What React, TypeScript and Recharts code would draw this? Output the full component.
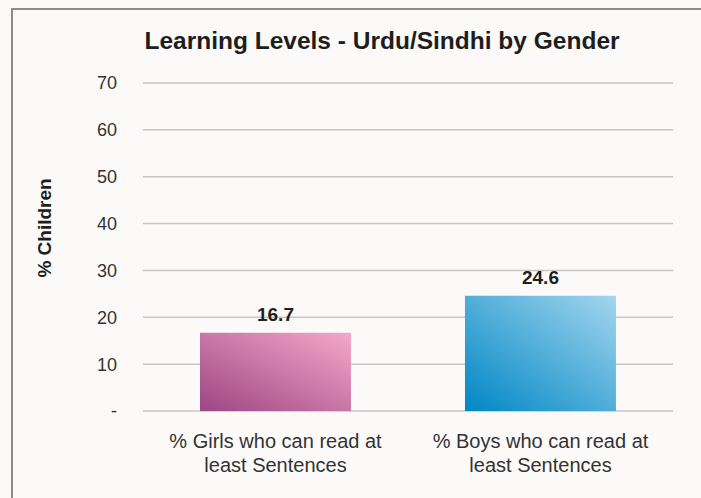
import { Bar, BarChart, CartesianGrid, Cell, LabelList, XAxis, YAxis } from "recharts";

const CATEGORIES = ["% Girls who can read at|least Sentences", "% Boys who can read at|least Sentences"];
const VALUES = [16.7, 24.6];
const Y_TICKS = [0, 10, 20, 30, 40, 50, 60, 70];
const GRADIENTS = [
  { id: "girls", from: "#9c4683", to: "#f4a8ca" },
  { id: "boys", from: "#0086c4", to: "#a3d6ee" },
];

const data = CATEGORIES.map((label, i) => ({ label, value: VALUES[i] }));

const FONT = "'Liberation Sans', Arial, sans-serif";

function CategoryTick(props: { x?: number; y?: number; payload?: { value: string } }) {
  const { x = 0, y = 0, payload } = props;
  const lines = String(payload?.value ?? "").split("|");
  return (
    <text x={x} y={y} textAnchor="middle" fill="#333" fontSize={20} fontFamily={FONT}>
      {lines.map((line, i) => (
        <tspan key={i} x={x} dy={i === 0 ? 29 : 24}>
          {line}
        </tspan>
      ))}
    </text>
  );
}

export default function App() {
  return (
    <div
      style={{
        position: "absolute",
        left: 0,
        top: 0,
        width: 701,
        height: 498,
        overflow: "hidden",
        background: "#fbfaf8",
        fontFamily: FONT,
      }}
    >
      <div
        style={{
          position: "absolute",
          left: 11,
          top: 8,
          width: 760,
          height: 560,
          border: "2px solid #8c8c8c",
        }}
      />
      <div
        style={{
          position: "absolute",
          left: 0,
          top: 27,
          width: 764,
          textAlign: "center",
          fontSize: 24.5,
          fontWeight: "bold",
          color: "#1e1e1e",
        }}
      >
        Learning Levels - Urdu/Sindhi by Gender
      </div>
      <div
        style={{
          position: "absolute",
          left: 45,
          top: 228,
          transform: "translate(-50%, -50%) rotate(-90deg)",
          fontSize: 19,
          fontWeight: "bold",
          color: "#1e1e1e",
          whiteSpace: "nowrap",
        }}
      >
        % Children
      </div>
      <div style={{ position: "absolute", left: 0, top: 0 }}>
        <BarChart
          width={701}
          height={498}
          data={data}
          margin={{ top: 83, right: 28, bottom: 27, left: 63 }}
          barCategoryGap="21.5%"
        >
          <defs>
            {GRADIENTS.map((g) => (
              <linearGradient key={g.id} id={g.id} x1="0" y1="1" x2="1" y2="0">
                <stop offset="0%" stopColor={g.from} />
                <stop offset="100%" stopColor={g.to} />
              </linearGradient>
            ))}
          </defs>
          <CartesianGrid vertical={false} stroke="#c6c6c6" strokeWidth={1.5} />
          <XAxis
            dataKey="label"
            axisLine={false}
            tickLine={false}
            height={60}
            interval={0}
            tick={<CategoryTick />}
          />
          <YAxis
            width={80}
            domain={[0, 70]}
            ticks={Y_TICKS}
            axisLine={false}
            tickLine={false}
            tickSize={0}
            tickMargin={26}
            tick={{ fill: "#333", fontSize: 18, fontFamily: FONT }}
            tickFormatter={(v: number) => (v === 0 ? "-" : String(v))}
          />
          <Bar dataKey="value" isAnimationActive={false}>
            {data.map((d, i) => (
              <Cell key={d.label} fill={`url(#${GRADIENTS[i].id})`} />
            ))}
            <LabelList
              dataKey="value"
              position="top"
              offset={12}
              fill="#1e1e1e"
              fontSize={19}
              fontWeight="bold"
              fontFamily={FONT}
              formatter={(v: number) => v.toFixed(1)}
            />
          </Bar>
        </BarChart>
      </div>
    </div>
  );
}
